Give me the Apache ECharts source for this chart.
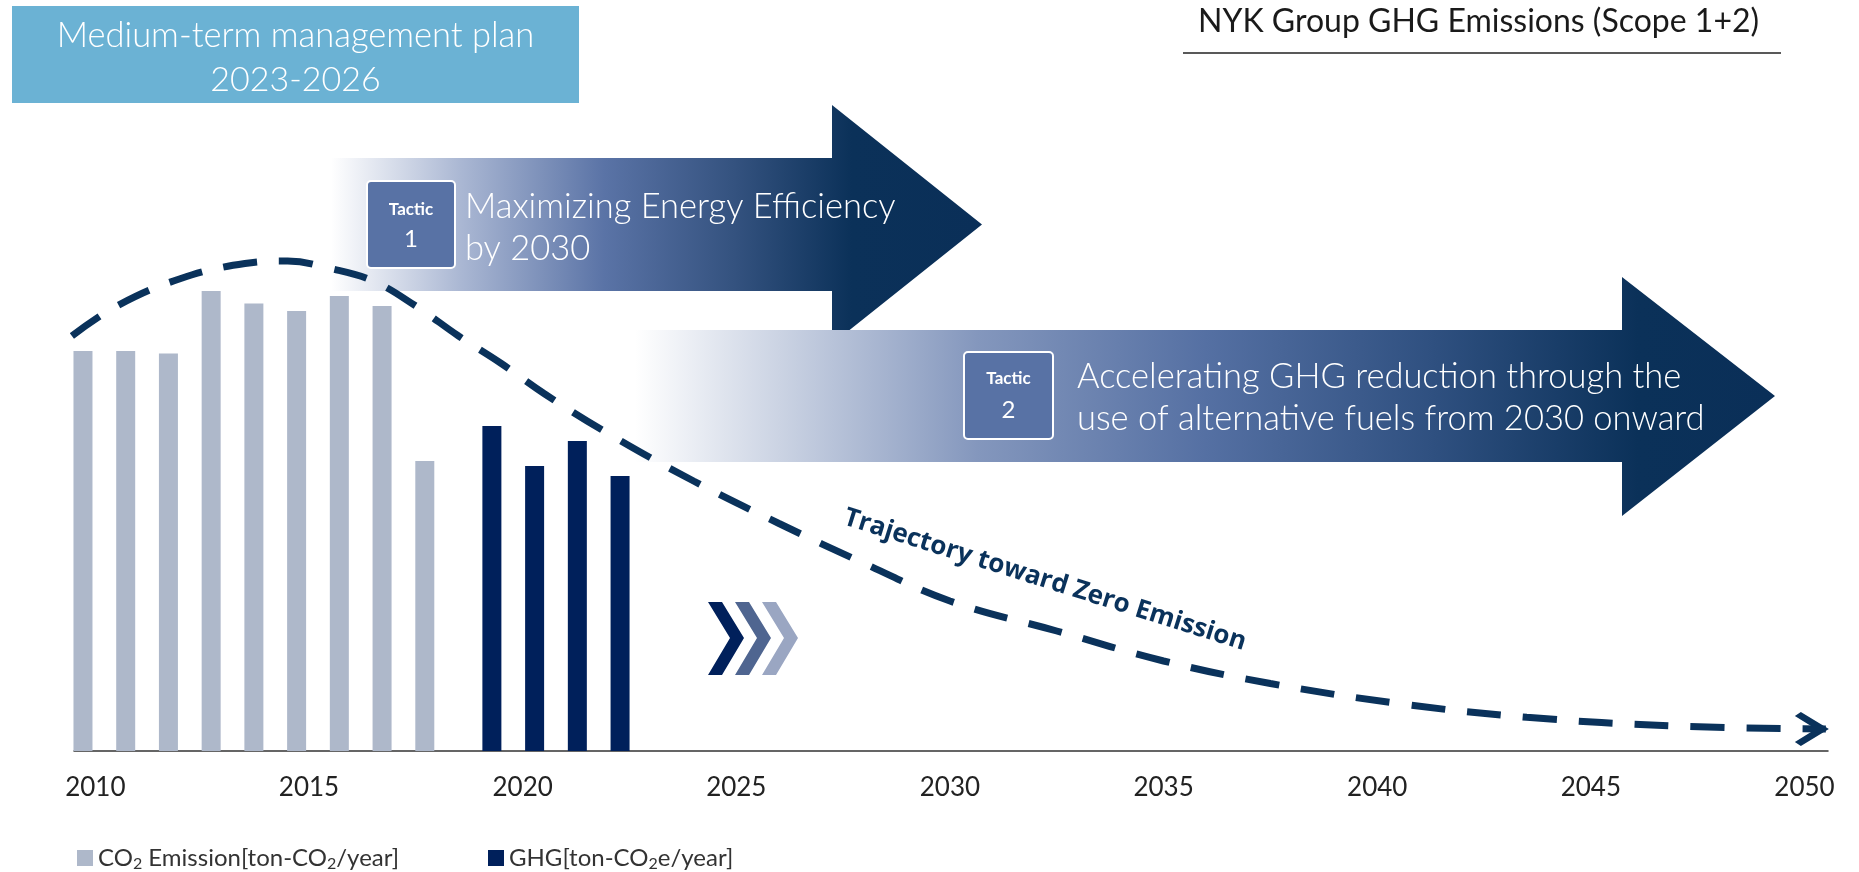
<!DOCTYPE html>
<html>
<head>
<meta charset="utf-8">
<title>NYK Group GHG Emissions</title>
<script src="https://cdn.jsdelivr.net/npm/echarts@6.0.0/dist/echarts.min.js"></script>
<style>
  html, body { margin: 0; padding: 0; background: #fff; }
  #ghgChart { width: 1859px; height: 872px; }
</style>
</head>
<body>
<div id="ghgChart"></div>
<script>
// values (million t, approx.)
var co2Years = [2010, 2011, 2012, 2013, 2014, 2015, 2016, 2017, 2018];
var co2Values = [16.0, 16.0, 15.9, 18.4, 17.9, 17.6, 18.2, 17.8, 11.6];
var ghgYears = [2019, 2020, 2021, 2022];
var ghgValues = [13.0, 11.4, 12.4, 11.0];
var trajYears = [2009.45, 2010.5, 2012, 2013.5, 2014.5, 2015.5, 2016.5, 2017.5, 2018.5, 2019.5, 2020.5,
  2022, 2024, 2026, 2028, 2030, 2032.5, 2035, 2037.5, 2040.5, 2043.5, 2047, 2050.5];
var trajValues = [16.6, 17.8, 18.9, 19.5, 19.6, 19.3, 18.8, 17.8, 16.6, 15.5, 14.3,
  12.7, 10.8, 9.1, 7.5, 6.0, 4.8, 3.6, 2.7, 1.9, 1.35, 1.0, 0.88];
var tickYears = [2010, 2015, 2020, 2025, 2030, 2035, 2040, 2045, 2050];

var co2Name = 'CO2 Emission[ton-CO2/year]';
var ghgName = 'GHG[ton-CO2e/year]';

var NAVY = '#0a325b';
var span = 41.05;

// CO2 -> CO + subscript 2
function subName(name) {
  return name.split('CO2').map(function (p) { return p ? '{n|' + p + '}' : ''; }).join('{n|CO}{s|2}');
}

var legendText = {
  rich: {
    n: { fontSize: 24, fontFamily: 'Lato', color: '#333', lineHeight: 28 },
    s: { fontSize: 16, fontFamily: 'Lato', color: '#333', lineHeight: 20, verticalAlign: 'bottom' }
  }
};

function txt(x, y, text, size, weight, align, family) {
  return {
    type: 'text', x: x, y: y, z: 3,
    style: {
      text: text, fill: '#fff', fontSize: size, fontWeight: weight || 'normal',
      fontFamily: family || 'Lato',
      align: align || 'left', verticalAlign: 'middle',
      textAlign: align || 'left', textVerticalAlign: 'middle'
    }
  };
}

function chevron(dx, color) {
  return {
    type: 'polygon', z: 1,
    shape: { points: [[708 + dx, 602], [722 + dx, 602], [744 + dx, 638], [722 + dx, 675], [708 + dx, 675], [730 + dx, 638]] },
    style: { fill: color }
  };
}

var chart = echarts.init(document.getElementById('ghgChart'));

var lastIdx = trajYears.length - 1;

var option = {
  animation: false,
  title: {
    text: 'NYK Group GHG Emissions (Scope 1+2)',
    left: 1193, top: 1,
    textStyle: { fontSize: 32, fontFamily: 'Lato', fontWeight: 'normal', color: '#1a1a1a' }
  },
  legend: [
    {
      data: [co2Name], left: 77, top: 846, padding: 0, icon: 'rect',
      itemWidth: 16, itemHeight: 16, itemGap: 4,
      formatter: subName, textStyle: legendText
    },
    {
      data: [ghgName], left: 488, top: 846, padding: 0, icon: 'rect',
      itemWidth: 16, itemHeight: 16, itemGap: 4,
      formatter: subName, textStyle: legendText
    }
  ],
  grid: { left: 74, right: 31, top: 126, bottom: 121, containLabel: false, outerBoundsMode: 'none' },
  xAxis: [
    {
      type: 'value', min: 2009.5, max: 2009.5 + span,
      axisLine: { show: true, lineStyle: { color: '#333', width: 1.5 } },
      axisTick: { show: false },
      splitLine: { show: false },
      axisLabel: {
        customValues: tickYears, margin: 24,
        fontSize: 26, fontFamily: 'Lato', color: '#222',
        formatter: function (v) { return String(Math.round(v)); }
      }
    },
    { type: 'value', show: false, min: 2009.79, max: 2009.79 + span, splitLine: { show: false } },
    { type: 'value', show: false, min: 2009.22, max: 2009.22 + span, splitLine: { show: false } }
  ],
  yAxis: { type: 'value', show: false, min: 0, max: 25, splitLine: { show: false } },
  series: [
    {
      name: co2Name, type: 'bar', xAxisIndex: 1, barWidth: 19,
      itemStyle: { color: '#aeb8ca' },
      data: co2Years.map(function (y, i) { return [y, co2Values[i]]; })
    },
    {
      name: ghgName, type: 'bar', xAxisIndex: 2, barWidth: 19,
      itemStyle: { color: '#00205b' },
      data: ghgYears.map(function (y, i) { return [y, ghgValues[i]]; })
    },
    {
      name: 'Trajectory', type: 'line', xAxisIndex: 0, smooth: 0.4, symbol: 'none', clip: false, z: 5,
      lineStyle: { color: NAVY, width: 7, type: [34, 22], cap: 'butt' },
      data: trajYears.map(function (y, i) { return [y, trajValues[i]]; }),
      markPoint: {
        symbol: 'path://M0,4 L6,0 L34,17 L6,34 L0,30 L21,17 Z',
        symbolSize: [34, 34], symbolOffset: [-14, 0], symbolKeepAspect: true,
        itemStyle: { color: NAVY }, label: { show: false },
        data: [{ coord: [trajYears[lastIdx], trajValues[lastIdx]] }]
      }
    }
  ],
  graphic: [
    { type: 'rect', z: 1, shape: { x: 12, y: 6, width: 567, height: 97 }, style: { fill: '#6bb2d4' } },
    txt(295.5, 36, 'Medium-term management plan', 34.5, 300, 'center'),
    txt(295.5, 80, '2023-2026', 34, 300, 'center'),
    { type: 'line', z: 1, shape: { x1: 1183, y1: 53, x2: 1781, y2: 53 }, style: { stroke: '#222', lineWidth: 1.5 } },
    {
      type: 'polygon', z: 0,
      shape: { points: [[331, 158], [832, 158], [832, 105], [982, 224.5], [832, 344], [832, 291], [331, 291]] },
      style: {
        fill: new echarts.graphic.LinearGradient(0, 0, 1, 0, [
          { offset: 0, color: '#ffffff' }, { offset: 0.2, color: '#aab7d3' },
          { offset: 0.42, color: '#5a73a6' }, { offset: 0.62, color: '#34527f' },
          { offset: 0.8, color: '#0b3159' }, { offset: 1, color: '#0a2f58' }
        ])
      }
    },
    {
      type: 'polygon', z: 0,
      shape: { points: [[635, 330], [1622, 330], [1622, 277], [1775, 396], [1622, 516], [1622, 462], [635, 462]] },
      style: {
        fill: new echarts.graphic.LinearGradient(0, 0, 1, 0, [
          { offset: 0, color: '#ffffff' }, { offset: 0.3, color: '#8497bd' },
          { offset: 0.5, color: '#5570a3' }, { offset: 0.7, color: '#2f5080' },
          { offset: 0.88, color: '#0b3159' }, { offset: 1, color: '#0a2f58' }
        ])
      }
    },
    { type: 'rect', z: 2, shape: { x: 367, y: 181, width: 88, height: 87, r: 4 }, style: { fill: '#5872a5', stroke: '#fff', lineWidth: 2 } },
    txt(411, 210, 'Tactic', 17, 'bold', 'center'),
    txt(411, 239, '1', 24, 'normal', 'center'),
    { type: 'rect', z: 2, shape: { x: 964, y: 352, width: 89, height: 87, r: 4 }, style: { fill: '#5872a5', stroke: '#fff', lineWidth: 2 } },
    txt(1008.5, 379, 'Tactic', 17, 'bold', 'center'),
    txt(1008.5, 410, '2', 24, 'normal', 'center'),
    txt(465, 207, 'Maximizing Energy Efficiency', 34.5, 300),
    txt(465, 249, 'by 2030', 34.5, 300),
    txt(1077, 377, 'Accelerating GHG reduction through the', 34.5, 300),
    txt(1077, 419, 'use of alternative fuels from 2030 onward', 34.5, 300),
    chevron(0, '#00205b'),
    chevron(27, '#4f6590'),
    chevron(54, '#9aa6c2'),
    {
      type: 'text', x: 1045, y: 580, rotation: -0.305, z: 3,
      style: {
        text: 'Trajectory toward Zero Emission', fill: NAVY,
        fontSize: 26, fontWeight: 'bold', fontFamily: 'Open Sans',
        align: 'center', verticalAlign: 'middle', textAlign: 'center', textVerticalAlign: 'middle'
      }
    }
  ]
};

chart.setOption(option);
</script>
</body>
</html>
